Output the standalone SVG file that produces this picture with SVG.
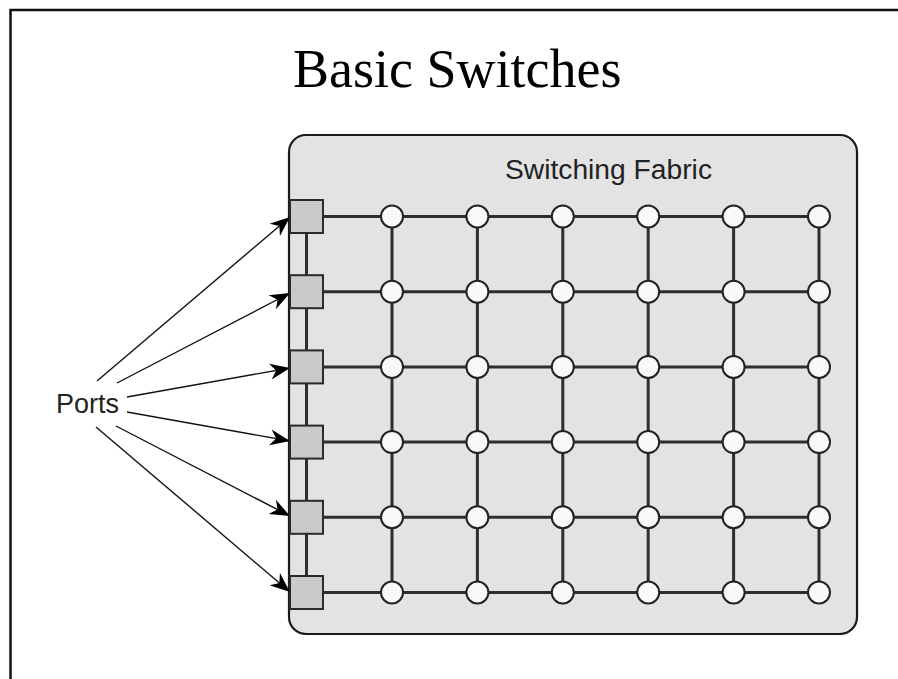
<svg xmlns="http://www.w3.org/2000/svg" width="898" height="679" viewBox="0 0 898 679">
  <style>
    .frame { fill: none; stroke: #111; stroke-width: 2.5; }
    .title { font-family: "Liberation Serif", "Times New Roman", serif; font-size: 54px; fill: #000; }
    .label { font-family: "Liberation Sans", Arial, sans-serif; font-size: 27px; fill: #222; }
    .fabric { fill: #e3e3e3; stroke: #1a1a1a; stroke-width: 2.2; }
    .wire { stroke: #2e2e2e; stroke-width: 3; fill: none; }
    .port { fill: #c9c9c9; stroke: #2a2a2a; stroke-width: 2; }
    .xpt { fill: #f9f9f9; stroke: #222; stroke-width: 2; }
    .arrow { stroke: #111; stroke-width: 1.4; fill: none; marker-end: url(#head); }
  </style>
  <defs>
    <marker id="head" markerUnits="userSpaceOnUse" markerWidth="24" markerHeight="20" viewBox="-22 -10 24 20" refX="0" refY="0" orient="auto">
      <path d="M0,0 L-20,-8 L-14,0 L-20,8 Z" fill="#000"/>
    </marker>
  </defs>

  <rect width="898" height="679" fill="#fff"/>
  <!-- slide border (left and top edges) -->
  <path class="frame" d="M10.5,679 V10 H898"/>

  <text class="title" x="293" y="87">Basic Switches</text>

  <!-- switching fabric body -->
  <g id="fabric">
    <rect class="fabric" x="289" y="135" width="568" height="499" rx="17" ry="17"/>
    <text class="label" x="505" y="179" textLength="207" lengthAdjust="spacingAndGlyphs">Switching Fabric</text>
  </g>

  <g id="connectors">
    <!-- crossbar wiring -->
    <g id="wires">
      <line class="wire" x1="306.5" y1="216.5" x2="306.5" y2="592.5"/>
      <line class="wire" x1="392" y1="216.5" x2="392" y2="592.5"/>
      <line class="wire" x1="477.4" y1="216.5" x2="477.4" y2="592.5"/>
      <line class="wire" x1="562.8" y1="216.5" x2="562.8" y2="592.5"/>
      <line class="wire" x1="648.2" y1="216.5" x2="648.2" y2="592.5"/>
      <line class="wire" x1="733.6" y1="216.5" x2="733.6" y2="592.5"/>
      <line class="wire" x1="819" y1="216.5" x2="819" y2="592.5"/>
      <line class="wire" x1="306.5" y1="216.5" x2="819" y2="216.5"/>
      <line class="wire" x1="306.5" y1="291.7" x2="819" y2="291.7"/>
      <line class="wire" x1="306.5" y1="366.9" x2="819" y2="366.9"/>
      <line class="wire" x1="306.5" y1="442.1" x2="819" y2="442.1"/>
      <line class="wire" x1="306.5" y1="517.3" x2="819" y2="517.3"/>
      <line class="wire" x1="306.5" y1="592.5" x2="819" y2="592.5"/>
    </g>
    <!-- label arrows to each port -->
    <g id="port-arrows">
      <line class="arrow" x1="97" y1="381" x2="290" y2="217"/>
      <line class="arrow" x1="117" y1="383" x2="290" y2="293"/>
      <line class="arrow" x1="127" y1="397" x2="290" y2="368"/>
      <line class="arrow" x1="127" y1="412" x2="290" y2="441"/>
      <line class="arrow" x1="116" y1="426" x2="290" y2="516"/>
      <line class="arrow" x1="96" y1="427" x2="290" y2="592"/>
    </g>
  </g>

  <!-- input ports -->
  <g id="port1"><rect class="port" x="290" y="200" width="33" height="33"/></g>
  <g id="port2"><rect class="port" x="290" y="275.2" width="33" height="33"/></g>
  <g id="port3"><rect class="port" x="290" y="350.4" width="33" height="33"/></g>
  <g id="port4"><rect class="port" x="290" y="425.6" width="33" height="33"/></g>
  <g id="port5"><rect class="port" x="290" y="500.8" width="33" height="33"/></g>
  <g id="port6"><rect class="port" x="290" y="576" width="33" height="33"/></g>

  <!-- crosspoints -->
  <g id="crosspoints">
    <g id="row1">
      <circle class="xpt" cx="392" cy="216.5" r="11"/><circle class="xpt" cx="477.4" cy="216.5" r="11"/><circle class="xpt" cx="562.8" cy="216.5" r="11"/><circle class="xpt" cx="648.2" cy="216.5" r="11"/><circle class="xpt" cx="733.6" cy="216.5" r="11"/><circle class="xpt" cx="819" cy="216.5" r="11"/>
    </g>
    <g id="row2">
      <circle class="xpt" cx="392" cy="291.7" r="11"/><circle class="xpt" cx="477.4" cy="291.7" r="11"/><circle class="xpt" cx="562.8" cy="291.7" r="11"/><circle class="xpt" cx="648.2" cy="291.7" r="11"/><circle class="xpt" cx="733.6" cy="291.7" r="11"/><circle class="xpt" cx="819" cy="291.7" r="11"/>
    </g>
    <g id="row3">
      <circle class="xpt" cx="392" cy="366.9" r="11"/><circle class="xpt" cx="477.4" cy="366.9" r="11"/><circle class="xpt" cx="562.8" cy="366.9" r="11"/><circle class="xpt" cx="648.2" cy="366.9" r="11"/><circle class="xpt" cx="733.6" cy="366.9" r="11"/><circle class="xpt" cx="819" cy="366.9" r="11"/>
    </g>
    <g id="row4">
      <circle class="xpt" cx="392" cy="442.1" r="11"/><circle class="xpt" cx="477.4" cy="442.1" r="11"/><circle class="xpt" cx="562.8" cy="442.1" r="11"/><circle class="xpt" cx="648.2" cy="442.1" r="11"/><circle class="xpt" cx="733.6" cy="442.1" r="11"/><circle class="xpt" cx="819" cy="442.1" r="11"/>
    </g>
    <g id="row5">
      <circle class="xpt" cx="392" cy="517.3" r="11"/><circle class="xpt" cx="477.4" cy="517.3" r="11"/><circle class="xpt" cx="562.8" cy="517.3" r="11"/><circle class="xpt" cx="648.2" cy="517.3" r="11"/><circle class="xpt" cx="733.6" cy="517.3" r="11"/><circle class="xpt" cx="819" cy="517.3" r="11"/>
    </g>
    <g id="row6">
      <circle class="xpt" cx="392" cy="592.5" r="11"/><circle class="xpt" cx="477.4" cy="592.5" r="11"/><circle class="xpt" cx="562.8" cy="592.5" r="11"/><circle class="xpt" cx="648.2" cy="592.5" r="11"/><circle class="xpt" cx="733.6" cy="592.5" r="11"/><circle class="xpt" cx="819" cy="592.5" r="11"/>
    </g>
  </g>

  <g id="ports-label">
    <text class="label" x="56" y="413" textLength="63" lengthAdjust="spacingAndGlyphs">Ports</text>
  </g>
</svg>
